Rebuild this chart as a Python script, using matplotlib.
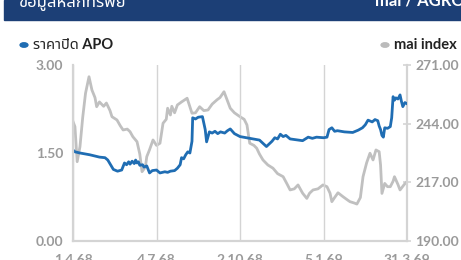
import matplotlib
matplotlib.use("Agg")
import matplotlib.pyplot as plt
from matplotlib.patches import Rectangle, Circle

plt.rcParams["font.family"] = ["Lato", "Noto Sans Thai", "Tahoma", "DejaVu Sans"]

# trading-day index vs close price (APO)
apo_idx = [0, 1.4, 5, 12, 19, 23, 25, 29, 32, 35, 37, 38.5, 40, 41, 42.5, 44, 45, 46, 47, 48,
           50, 51, 53, 55, 57, 60, 62.5, 66, 68, 70, 73, 75, 77, 78, 79.5, 81, 82.5, 84, 85.5, 86,
           88, 90, 93, 95, 96, 98, 100, 102, 104, 106, 109, 111, 113, 116, 120, 127, 134, 139, 143, 145,
           147, 149, 151, 153, 156, 165, 169, 172, 175, 180, 182.5, 184, 186, 188, 190, 195, 201, 205, 208, 210,
           212, 215, 217, 219, 220, 221, 222, 223, 224, 226, 228, 229, 230, 231, 232, 233.5, 235, 236, 237, 238.5,
           240]
apo_close = [1.55, 1.52, 1.50, 1.47, 1.43, 1.42, 1.38, 1.22, 1.19, 1.21, 1.33, 1.30, 1.35, 1.31, 1.36, 1.32, 1.38, 1.33, 1.35, 1.29,
             1.30, 1.26, 1.28, 1.16, 1.20, 1.21, 1.16, 1.18, 1.17, 1.19, 1.20, 1.24, 1.30, 1.42, 1.40, 1.47, 1.52, 1.50, 1.70, 2.10,
             2.08, 2.11, 2.12, 1.90, 1.69, 1.86, 1.84, 1.87, 1.83, 1.86, 1.84, 1.88, 1.91, 1.83, 1.78, 1.75, 1.72, 1.61, 1.70, 1.76,
             1.74, 1.82, 1.78, 1.80, 1.74, 1.71, 1.77, 1.75, 1.77, 1.76, 1.77, 1.90, 1.93, 1.87, 1.88, 1.86, 1.85, 1.89, 1.93, 1.98,
             2.06, 2.03, 2.07, 2.05, 1.96, 1.90, 1.80, 1.77, 1.93, 1.92, 1.95, 2.10, 2.46, 2.40, 2.44, 2.42, 2.49, 2.38, 2.29, 2.36,
             2.34]

# trading-day index vs mai index
mai_idx = [0, 1.4, 3, 5, 7, 9, 11.5, 13.6, 15.8, 17, 19, 22, 24, 26.6, 28, 31.6, 34, 36, 39, 41,
           43, 46, 48, 49.6, 52, 53, 55, 57.5, 60, 62.5, 64.7, 67, 68, 70, 71, 73, 75, 78, 82, 85.5,
           88, 91, 94, 97, 100, 103.5, 105.6, 108.5, 110.7, 113, 116, 120, 123, 125, 127, 130, 132, 134, 136.5, 140,
           143.7, 147, 151, 154, 156, 159, 161.7, 165, 168, 170, 172.5, 176, 179.6, 182.5, 184.7, 186, 188, 190.4, 194, 197,
           199, 202, 204, 206.5, 208.4, 211, 213.4, 215.6, 217.7, 220, 221, 222, 224, 226, 228, 230, 231, 233.5, 235, 238,
           240]
mai_value = [245, 242.6, 226.5, 233.4, 247, 258, 265.6, 259.5, 256, 251.8, 254, 252, 253.5, 250, 247.2, 245.7, 243, 241.1, 241.5, 240.3,
             238, 235.7, 230, 221.9, 224, 228.8, 232, 236.5, 234, 235, 244.2, 246, 251.1, 248, 252, 249, 252.6, 254, 255.7, 248.8,
             249, 251.8, 250, 250.3, 253, 255, 256, 258.7, 255, 251.1, 249, 247.2, 246, 243.4, 235, 234, 232.7, 230, 227.3, 225,
             223.5, 221, 219.6, 216, 213.5, 214, 215.8, 212, 209.6, 212, 213.5, 214, 215.8, 215, 212, 208.1, 210, 212.2, 210.4, 209,
             208.1, 207.5, 207, 210, 219.6, 226, 230.4, 227.3, 231.9, 231.1, 225, 211.9, 216.5, 215, 215, 217.5, 219.6, 216, 213.5, 216,
             217.3]

tick_idx = [0, 60, 120, 180, 240]
tick_labels = ["1.4.68", "4.7.68", "2.10.68", "5.1.69", "31.3.69"]
left_ticks = [0, 1.5, 3.0]
right_ticks = [190, 217, 244, 271]

BLUE = "#1f6db3"
GRAY = "#c0c0c0"
TXT = "#9a9a9a"
AX = "#d4d4d4"

fig = plt.figure(figsize=(4.61, 2.6), dpi=100)

# header bar
fig.patches.append(Rectangle((4 / 461, 240 / 260), 1, 20 / 260, transform=fig.transFigure,
                             color="#1c3f76", zorder=0))
fig.text(18 / 461, 254 / 260, "ข้อมูลหลักทรัพย์", color="white", fontsize=12, fontweight="bold",
         va="baseline", ha="left")
fig.text(375 / 461, 254 / 260, "mai / AGRO", color="white", fontsize=12, fontweight="bold",
         va="baseline", ha="left")

# legend
fig.patches.append(Circle((24 / 461, 215 / 260), 0.0085, transform=fig.transFigure, color=BLUE))
fig.text(33 / 461, 215 / 260, "ราคาปิด APO", fontsize=10.5, fontweight="bold", va="center", color="#222222")
fig.patches.append(Circle((385 / 461, 215 / 260), 0.0085, transform=fig.transFigure, color="#bbbbbb"))
fig.text(394 / 461, 215 / 260, "mai index", fontsize=10.5, fontweight="bold", va="center", color="#222222")

ax = fig.add_axes([73 / 461, 19 / 260, 334 / 461, 176 / 260])
ax2 = ax.twinx()

ax2.plot(mai_idx, mai_value, color=GRAY, lw=2.0, solid_joinstyle="round")
ax.plot(apo_idx, apo_close, color=BLUE, lw=2.0, solid_joinstyle="round")
ax.set_zorder(ax2.get_zorder() + 1)
ax.patch.set_visible(False)

ax.set_xlim(0, 240)
ax.set_ylim(0, 3)
ax2.set_ylim(190, 271)

ax.set_xticks(tick_idx)
ax.set_xticklabels(tick_labels)
ax.set_yticks(left_ticks)
ax.set_yticklabels([f"{v:.2f}" for v in left_ticks])
ax2.set_yticks(right_ticks)
ax2.set_yticklabels([f"{v:.2f}" for v in right_ticks])

for a in (ax, ax2):
    for s in a.spines.values():
        s.set_visible(False)
ax.spines["left"].set_visible(True)
ax.spines["bottom"].set_visible(True)
ax2.spines["right"].set_visible(True)
for s in (ax.spines["left"], ax.spines["bottom"], ax2.spines["right"]):
    s.set_color(AX)
    s.set_linewidth(1.6)

ax.grid(axis="x", color=AX, lw=1.0)
ax.tick_params(axis="y", length=0, labelsize=10, labelcolor=TXT, pad=7)
ax.tick_params(axis="x", length=0, labelsize=10, labelcolor=TXT, pad=9)
ax2.tick_params(axis="y", direction="inout", length=6, width=1.2, color=AX,
                labelsize=10, labelcolor=TXT, pad=3)
for lab in ax.get_yticklabels() + ax2.get_yticklabels() + ax.get_xticklabels():
    lab.set_fontweight("bold")

fig.savefig("out.png", dpi=100)
